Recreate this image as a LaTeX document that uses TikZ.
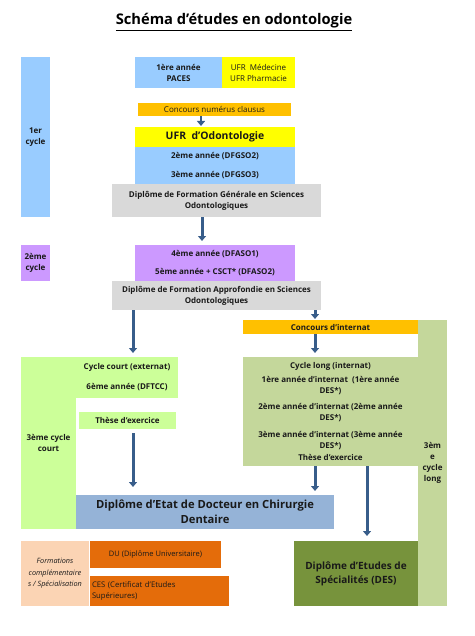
\documentclass[tikz,border=0pt]{standalone}
\usepackage{fontspec}
\setmainfont{Open Sans}
\usetikzlibrary{arrows.meta}
\definecolor{paleblue}{HTML}{99CCFF}
\definecolor{ufryellow}{HTML}{FFFF00}
\definecolor{concours}{HTML}{FFC000}
\definecolor{diplgray}{HTML}{D9D9D9}
\definecolor{lilac}{HTML}{CC99FF}
\definecolor{lime}{HTML}{CCFF99}
\definecolor{olivelight}{HTML}{C4D79B}
\definecolor{olivedark}{HTML}{77933C}
\definecolor{deblue}{HTML}{95B3D7}
\definecolor{peach}{HTML}{FBD4B4}
\definecolor{burnt}{HTML}{E46C0A}
\definecolor{arrowblue}{HTML}{385D8A}
\begin{document}
\begin{tikzpicture}[x=1pt,y=-1pt,
  box/.style={rectangle,inner sep=0pt,outer sep=0pt,align=center,text=black!90,
    font=\fontsize{8}{11}\selectfont\bfseries},
  plain box/.style={box,font=\fontsize{8}{11}\selectfont},
  big box/.style={box,font=\fontsize{11.2}{15}\selectfont\bfseries},
  down arrow/.style={-{Triangle[width=8pt,length=5pt]},line width=3pt,draw=arrowblue,shorten >=4pt}]
  \useasboundingbox (0,0) rectangle (474,636);
  \node[font=\fontsize{14.7}{18}\selectfont\bfseries] (title) at (234,22) {\underline{Schéma d’études en odontologie}};
  % cycles on the left
  \node[box,fill=paleblue,minimum width=29pt,minimum height=160pt] (cyc1) at (35.5,137) {1er\\cycle};
  \node[box,fill=lilac,minimum width=29pt,minimum height=36pt] (cyc2) at (35.5,263) {2ème\\cycle};
  % first cycle
  \node[box,fill=paleblue,minimum width=87pt,minimum height=31pt] (paces) at (178.5,72.5) {1ère année\\PACES};
  \node[plain box,fill=ufryellow,minimum width=73pt,minimum height=31pt] (ufrmed) at (258.5,72.5) {UFR~~Médecine\\UFR Pharmacie};
  \node[plain box,fill=concours,minimum width=153pt,minimum height=13pt] (numerus) at (214.5,109.5) {Concours numérus clausus};
  \node[big box,fill=ufryellow,minimum width=160pt,minimum height=20pt,font=\fontsize{10.4}{14}\selectfont\bfseries] (ufrodonto) at (215,137) {UFR~~d'Odontologie};
  \node[box,fill=paleblue,minimum width=160pt,minimum height=18.5pt] (dfgso2) at (215,156.25) {2ème année (DFGSO2)};
  \node[box,fill=paleblue,minimum width=160pt,minimum height=18.5pt] (dfgso3) at (215,174.75) {3ème année (DFGSO3)};
  \node[box,fill=diplgray,minimum width=209pt,minimum height=33pt] (dfgs) at (216.5,200.5)
    {Diplôme de Formation Générale en Sciences\\Odontologiques};
  % second cycle
  \node[box,fill=lilac,minimum width=160pt,minimum height=18pt] (dfaso1) at (215,254) {4ème année (DFASO1)};
  \node[box,fill=lilac,minimum width=160pt,minimum height=18pt] (dfaso2) at (215,272) {5ème année + CSCT* (DFASO2)};
  \node[box,fill=diplgray,minimum width=209pt,minimum height=29pt] (dfas) at (216.5,295.5)
    {Diplôme de Formation Approfondie en Sciences\\Odontologiques};
  % third cycle, short
  \node[box,fill=lime,minimum width=55pt,minimum height=172pt] (courtcol) at (48.5,443) {3ème cycle\\court};
  \node[box,fill=lime,minimum width=102.5pt,minimum height=41pt] (courttop) at (127,377.5)
    {Cycle court (externat)\\[9pt]6ème année (DFTCC)};
  \node[box,fill=lime,minimum width=97pt,minimum height=17pt] (these) at (127.5,420.5) {Thèse d'exercice};
  % third cycle, long
  \node[box,fill=concours,minimum width=175pt,minimum height=14pt] (concint) at (330.5,327) {Concours d'internat};
  \node[box,fill=olivelight,minimum width=29pt,minimum height=286pt] (longcol) at (432.5,463) {3èm\\e\\cycle\\long};
  \node[box,fill=olivelight,minimum width=175pt,minimum height=109pt] (cyclelong) at (330.5,411.5)
    {Cycle long (internat)\\[3pt]1ère année d'internat~~(1ère année\\DES*)\\[5pt]2ème année d'internat (2ème année\\DES*)\\[6pt]
     3ème année d'internat (3ème année\\DES*)\\[1pt]Thèse d'exercice};
  % diplomas
  \node[big box,fill=deblue,minimum width=258pt,minimum height=34pt] (de) at (205,512)
    {Diplôme d'Etat de Docteur en Chirurgie\\Dentaire};
  \node[box,fill=olivedark,minimum width=124pt,minimum height=65pt,font=\fontsize{10}{14}\selectfont\bfseries] (des) at (356,573.5)
    {Diplôme d'Etudes de\\Spécialités (DES)};
  \node[plain box,fill=peach,minimum width=68pt,minimum height=65pt,font=\fontsize{7.3}{11.5}\selectfont\itshape] (formations) at (55,573.5)
    {Formations\\complémentaire\\s / Spécialisation};
  \node[plain box,fill=burnt,minimum width=131pt,minimum height=27pt,font=\fontsize{7.5}{11}\selectfont] (du) at (155.5,554.5) {DU (Diplôme Universitaire)};
  \node[plain box,fill=burnt,minimum width=139pt,minimum height=30pt,align=left,text width=135pt,font=\fontsize{7.7}{11}\selectfont] (ces) at (159.5,591)
    {CES (Certificat d'Etudes\\Supérieures)};
  % arrows
  \coordinate (a1) at ([xshift=-13.5pt]numerus.south);
  \coordinate (a2) at ([xshift=-14.5pt]dfgs.south);
  \coordinate (a3) at ([xshift=-83.5pt]dfas.south);
  \coordinate (a4) at ([xshift=98.5pt]dfas.south);
  \coordinate (a5) at ([xshift=5.5pt]these.south);
  \coordinate (a6) at ([xshift=-15.5pt]concint.south);
  \coordinate (a7) at ([xshift=-15.5pt]cyclelong.south);
  \coordinate (a8) at ([xshift=36.5pt]cyclelong.south);
  \draw[down arrow,line width=2pt,shorten >=1pt] (a1) -- (a1 |- ufrodonto.north);
  \draw[down arrow] (a2) -- (a2 |- dfaso1.north);
  \draw[down arrow] (a3) -- (a3 |- courttop.north);
  \draw[down arrow,shorten >=1pt] (a4) -- (a4 |- concint.north);
  \draw[down arrow,shorten <=4pt,shorten >=8pt] (a5) -- (a5 |- de.north);
  \draw[down arrow] (a6) -- (a6 |- cyclelong.north);
  \draw[down arrow] (a7) -- (a7 |- de.north);
  \draw[down arrow,shorten >=5pt] (a8) -- (a8 |- des.north);
\end{tikzpicture}
\end{document}
